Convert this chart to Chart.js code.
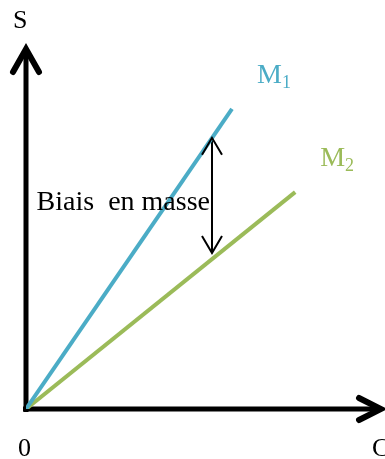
<!DOCTYPE html>
<html>
<head>
<meta charset="utf-8">
<script src="https://cdn.jsdelivr.net/npm/chart.js@4/dist/chart.umd.min.js"></script>
<style>
    html, body { margin: 0; padding: 0; background: #fff; overflow: hidden; }
    #wrap { width: 385px; height: 459px; }
</style>
</head>
<body>
<div id="wrap"><canvas id="chart"></canvas></div>
<script>
// calibration lines (arbitrary units, C on x, S on y)
const m1X = [0, 57.7];
const m1Y = [0, 82.9];
const m2X = [0, 75.4];
const m2Y = [0, 59.9];

// mass bias arrow between the two lines
const biasX = [52.1, 52.1];
const biasY = [74.9, 43.1];

const seriesNames = ['M', 'M'];
const seriesSubs = ['1', '2'];
const axisLabels = ['S', 'C', '0'];
const biasLabel = 'Biais  en masse';

const BLUE = '#4bacc6';
const GREEN = '#9bbb59';
const FONT = '"Liberation Serif", "DejaVu Serif", serif';

const toPoints = (xs, ys) => xs.map((x, i) => ({ x: x, y: ys[i] }));

function chevron(ctx, tx, ty, dx, dy, len, half) {
    // dx,dy = unit direction the arrow points to
    const bx = tx - dx * len, by = ty - dy * len;
    ctx.beginPath();
    ctx.moveTo(bx - dy * half, by + dx * half);
    ctx.lineTo(tx, ty);
    ctx.lineTo(bx + dy * half, by - dx * half);
    ctx.stroke();
}

const drawingPlugin = {
    id: 'drawing',
    beforeDatasetsDraw: (chart) => {
        const ctx = chart.ctx;
        const a = chart.chartArea;
        ctx.save();
        ctx.strokeStyle = '#000';
        ctx.lineWidth = 5;
        ctx.lineCap = 'butt';
        ctx.beginPath();
        ctx.moveTo(a.left, a.bottom + 3);
        ctx.lineTo(a.left, a.top + 3);
        ctx.moveTo(a.left - 3, a.bottom);
        ctx.lineTo(a.right - 3, a.bottom);
        ctx.stroke();
        ctx.lineWidth = 6;
        ctx.lineJoin = 'miter';
        ctx.lineCap = 'round';
        chevron(ctx, a.left, a.top + 2, 0, -1, 23, 13);
        chevron(ctx, a.right - 2, a.bottom, 1, 0, 22, 11);
        ctx.restore();
    },
    afterDatasetsDraw: (chart) => {
        const ctx = chart.ctx;
        const a = chart.chartArea;
        const xs = chart.scales.x, ys = chart.scales.y;
        ctx.save();

        // bias arrow heads
        const ax = xs.getPixelForValue(biasX[0]);
        const top = ys.getPixelForValue(biasY[0]);
        const bot = ys.getPixelForValue(biasY[1]);
        ctx.strokeStyle = '#000';
        ctx.lineWidth = 2;
        ctx.lineCap = 'butt';
        chevron(ctx, ax, top, 0, -1, 17, 10);
        chevron(ctx, ax, bot, 0, 1, 17, 10);

        ctx.fillStyle = '#000';
        ctx.font = '28px ' + FONT;
        ctx.textAlign = 'right';
        ctx.textBaseline = 'alphabetic';
        ctx.fillText(biasLabel, ax - 2, (top + bot) / 2 + 15);

        // series labels near line ends
        const ends = [[m1X[1], m1Y[1], BLUE], [m2X[1], m2Y[1], GREEN]];
        ends.forEach((e, i) => {
            const px = xs.getPixelForValue(e[0]) + 25;
            const py = ys.getPixelForValue(e[1]) - 26;
            ctx.fillStyle = e[2];
            ctx.textAlign = 'left';
            ctx.font = '28px ' + FONT;
            ctx.fillText(seriesNames[i], px, py);
            const w = ctx.measureText(seriesNames[i]).width;
            ctx.font = '18px ' + FONT;
            ctx.fillText(seriesSubs[i], px + w, py + 5);
        });

        // axis letters
        ctx.fillStyle = '#000';
        ctx.font = '26px ' + FONT;
        ctx.textAlign = 'left';
        ctx.fillText(axisLabels[0], a.left - 13, a.top - 19);
        ctx.fillText(axisLabels[1], a.right - 11, a.bottom + 47);
        ctx.fillText(axisLabels[2], a.left - 8, a.bottom + 47);
        ctx.restore();
    }
};

new Chart(document.getElementById('chart'), {
    type: 'scatter',
    data: {
        datasets: [
            {
                label: 'M1',
                data: toPoints(m1X, m1Y),
                showLine: true,
                borderColor: BLUE,
                borderWidth: 4,
                pointRadius: 0
            },
            {
                label: 'M2',
                data: toPoints(m2X, m2Y),
                showLine: true,
                borderColor: GREEN,
                borderWidth: 4,
                pointRadius: 0
            },
            {
                label: 'Biais',
                data: toPoints(biasX, biasY),
                showLine: true,
                borderColor: '#000',
                borderWidth: 2,
                pointRadius: 0
            }
        ]
    },
    options: {
        responsive: true,
        maintainAspectRatio: false,
        animation: false,
        devicePixelRatio: 1,
        layout: { padding: { left: 26, right: 2, top: 47, bottom: 50 } },
        plugins: { legend: { display: false }, tooltip: { enabled: false } },
        scales: {
            x: { type: 'linear', min: 0, max: 100, display: false },
            y: { type: 'linear', min: 0, max: 100, display: false }
        }
    },
    plugins: [drawingPlugin]
});
</script>
</body>
</html>
